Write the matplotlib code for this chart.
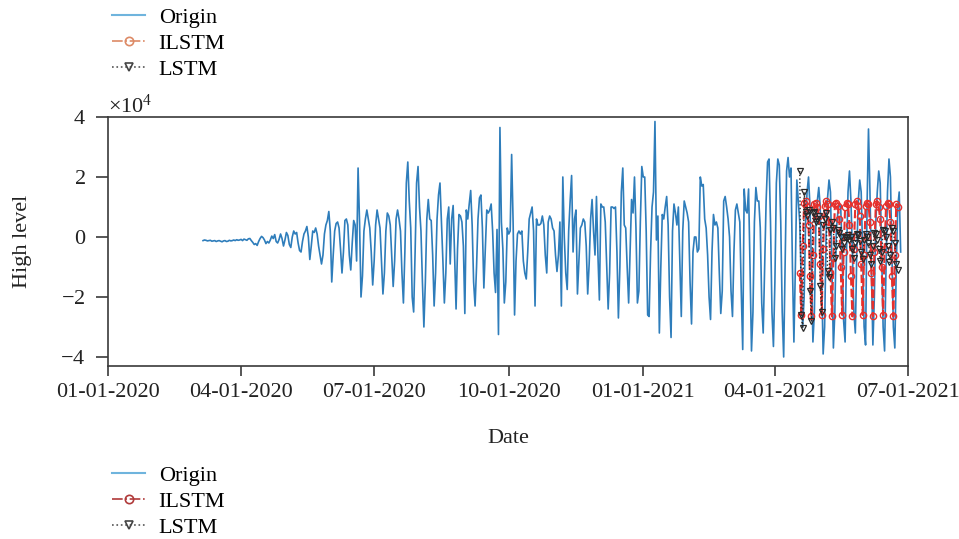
import matplotlib
matplotlib.use('Agg')
import matplotlib.pyplot as plt
import matplotlib.dates as mdates
import numpy as np
import pandas as pd
from matplotlib.lines import Line2D

plt.rcParams['font.family'] = ['Liberation Serif', 'DejaVu Serif']
plt.rcParams['mathtext.fontset'] = 'custom'
plt.rcParams['mathtext.rm'] = 'Liberation Serif'
plt.rcParams['axes.unicode_minus'] = True

# ---------------- data (units of 1e4) ----------------
origin_start = '2020-03-06'
origin = [
    -0.12, -0.10, -0.11, -0.13, -0.12, -0.11, -0.14, -0.13, -0.12, -0.15,
    -0.13, -0.12, -0.14, -0.16, -0.13, -0.12, -0.15, -0.14, -0.11, -0.13,
    -0.12, -0.10, -0.12, -0.09, -0.11, -0.10, -0.08, -0.12, -0.07, -0.09,
    -0.11, -0.06, -0.05, -0.12, -0.18, -0.25, -0.22, -0.28, -0.15, -0.05,
    0.02, -0.02, -0.10, -0.22, -0.15, -0.20, -0.10, 0.03, -0.05, 0.08,
    -0.15, -0.20, -0.08, 0.10, -0.05, -0.30, -0.10, 0.15, 0.05, -0.25,
    -0.35, 0.00, 0.20, 0.10, 0.15, -0.20, -0.45, -0.50, -0.15, 0.10,
    0.20, 0.35, 0.00, -0.75, -0.30, 0.20, 0.15, 0.30, 0.10, -0.30,
    -0.60, -0.90, -0.60, 0.10, 0.40, 0.55, 0.85, 0.20, -1.50, -0.60,
    0.20, 0.45, 0.50, 0.30, -0.40, -1.20, -0.50, 0.55, 0.60, 0.40,
    -0.60, -1.10, -0.20, 0.55, 0.40, -0.80, 2.30, 0.50, -2.00, -1.30,
    0.20, 0.60, 0.90, 0.60, 0.30, -0.50, -1.60, -0.80, 0.40, 0.90,
    0.60, 0.30, -0.80, -1.90, -1.20, 0.20, 0.80, 0.70, 0.40, -0.60,
    -1.65, -0.80, 0.60, 0.90, 0.60, 0.20, -1.20, -2.20, -0.50, 1.80,
    2.50, 1.20, 0.30, -2.00, -2.50, -0.50, 1.80, 2.35, 1.00, 0.20,
    -1.50, -3.00, -1.50, 0.60, 1.25, 0.60, 0.55, -0.60, -2.30, -1.20,
    0.60, 1.40, 1.80, 0.50, -0.80, -2.20, -1.20, 0.60, 1.00, -0.90,
    0.60, 1.05, -0.60, -2.40, -0.40, 0.75, 0.70, 0.50, -0.30, -2.55,
    0.90, 0.60, 1.10, 1.55, 0.40, -1.50, -2.30, -1.00, 0.60, 1.30,
    1.40, 0.30, -1.70, -0.40, 0.90, 0.80, 0.90, 1.10, 0.20, -1.20,
    -1.85, 0.25, -3.25, 3.65, 0.50, -0.40, -2.20, -1.50, 0.30, 0.10,
    0.20, 2.75, 0.50, -2.60, -0.80, 0.10, 0.20, 0.10, 0.20, -0.80,
    -1.20, -1.40, -0.50, 0.60, 0.80, 1.00, 0.20, -2.30, 0.60, 0.40,
    0.40, 0.45, 0.70, 0.40, -0.60, -1.20, 0.50, 0.70, 0.60, 0.30,
    0.20, -0.60, -1.15, -0.60, 0.50, -2.30, 2.00, 0.00, -1.20, -1.75,
    0.20, 1.20, 2.05, -0.50, 0.60, 0.90, -1.90, -0.80, 0.30, 0.40,
    0.60, 0.50, -0.30, -1.90, -0.90, 0.60, 1.25, 0.20, -0.60, 1.35,
    -0.60, -2.10, 1.10, 1.00, 1.00, 0.50, -1.00, -2.40, -1.20, 1.00,
    1.00, 0.95, 1.00, -0.50, -2.70, -1.00, 1.50, 2.30, 0.40, 0.30,
    -1.00, -2.20, -0.50, 1.25, 0.80, 2.00, 0.30, -2.20, -1.80, 0.50,
    2.35, 2.00, 2.00, 0.20, -2.60, -2.65, -0.50, 1.00, 1.50, 3.85,
    -0.10, 0.70, -3.20, -1.00, 0.75, 0.60, 1.00, 1.35, 0.40, -2.00,
    -3.35, 0.20, 1.10, 0.80, 0.40, 1.00, -0.80, -2.65, 0.20, 1.20,
    1.00, 0.80, 0.50, -1.50, -2.90, -0.50, 0.00, 0.00, -0.50, -0.40,
    2.00, 1.70, 1.75, 0.60, 0.30, -0.60, -2.00, -2.75, -0.50, 0.75,
    0.40, 0.50, 0.30, -1.20, -2.55, -1.80, 1.20, 1.35, 1.00, 0.60,
    0.00, -1.80, -2.65, -0.50, 0.90, 1.10, 0.80, 0.50, -1.80, -3.75,
    1.60, 0.90, 0.80, 1.60, -1.00, -3.80, -2.50, 0.50, 1.65, 1.20,
    1.20, 0.30, -2.20, -3.20, -1.00, 1.20, 2.50, 2.60, 0.50, -2.50,
    -3.65, -1.50, 1.80, 2.60, 2.40, 0.50, -2.50, -4.00, -1.00, 2.20,
    2.65, 2.00, 2.30, -1.00, -3.50, -1.00, 1.90, 1.20, 0.50, -1.50,
    -3.00, -2.00, 0.50, 1.50, 2.00, 1.00, -1.00, -3.50, -2.50, 0.30,
    1.20, 1.65, 1.00, -1.50, -3.90, -3.00, 0.00, 1.30, 1.90, 1.50,
    -1.00, -3.70, -2.50, 0.20, 0.80, 1.10, 1.00, -0.50, -2.80, -3.50,
    -0.50, 1.50, 2.20, 1.20, -0.50, -2.50, -3.20, -0.50, 1.20, 1.90,
    1.50, -0.50, -3.00, -3.60, 1.00, 3.60, 1.50, -1.00, -3.60, -2.00,
    0.50, 1.50, 2.20, 1.80, -0.50, -3.00, -3.80, -1.00, 1.50, 2.60,
    2.00, -0.50, -3.00, -3.70, -1.00, 1.00, 1.50, -0.50,
]

pred_start = '2021-04-18'
ilstm = [
    -1.20, -2.60, -0.30, 1.15, 1.20, 1.00, 0.40, -1.30, -2.65, -0.60,
    1.10, 1.15, 1.00, 0.70, -0.90, -2.60, -0.40, 1.05, 1.20, 1.10,
    0.50, -1.20, -2.65, -0.70, 1.10, 1.15, 1.05, 0.60, -1.00, -2.60,
    -0.50, 1.00, 1.15, 1.10, 0.40, -1.30, -2.65, -0.40, 1.10, 1.20,
    1.05, 0.70, -0.90, -2.60, -0.60, 1.05, 1.15, 1.10, 0.50, -1.20,
    -2.65, -0.50, 1.10, 1.20, 1.00, 0.60, -1.00, -2.60, -0.40, 1.05,
    1.15, 1.10, 0.50, -1.30, -2.65, -0.60, 1.10, 1.00,
]
lstm = [
    2.20, -2.60, -3.05, 1.50, 0.85, 0.70, 0.90, -1.80, -2.80, 0.80,
    0.85, 0.50, 0.60, 0.70, -1.65, -2.50, 0.40, 0.60, 0.80, -1.15,
    -1.35, 0.25, 0.50, 0.30, -0.70, -0.30, 0.25, 0.15, 0.00, -0.40,
    -0.20, 0.00, -0.05, 0.05, -0.10, 0.00, -0.40, -0.70, -0.20, 0.10,
    0.05, -0.15, -0.50, -0.75, -0.10, 0.10, 0.00, -0.20, -0.60, -0.90,
    -0.30, 0.15, 0.10, -0.10, -0.40, -0.80, -0.50, 0.25, 0.20, 0.00,
    -0.30, -0.85, -0.60, 0.30, 0.20, -0.20, -0.90, -1.10,
]

x_range = ('2020-01-01', '2021-07-01')
y_ticks = [-4, -2, 0, 2, 4]
scale = 1e4

# ---------------- figure ----------------
fig = plt.figure(figsize=(9.59, 5.39), dpi=100)
ax = fig.add_axes([0.1126, 0.3210, 0.8342, 0.4619])

dates = pd.date_range(origin_start, periods=len(origin), freq='D')
pdates = pd.date_range(pred_start, periods=len(ilstm), freq='D')

blue = '#2e7dbb'
red = '#e6302d'
dark = '#2a2a2a'

ax.plot(dates, np.array(origin) * scale, color=blue, lw=1.2, zorder=2)
ax.plot(pdates, np.array(ilstm) * scale, color=red, lw=1.5, ls=(0, (4, 1.5)),
        marker='o', ms=4.5, mfc='none', mec=red, mew=1.0, zorder=3)
ax.plot(pdates, np.array(lstm) * scale, color=dark, lw=1.0, ls=':',
        marker='v', ms=4.5, mfc='none', mec=dark, mew=0.9, zorder=4)

ax.set_xlim(pd.Timestamp(x_range[0]), pd.Timestamp(x_range[1]))
ax.set_ylim(-43000, 40000)
ax.set_yticks([v * scale for v in y_ticks])
ax.ticklabel_format(axis='y', style='sci', scilimits=(0, 0), useMathText=True)
ax.xaxis.set_major_locator(mdates.MonthLocator(bymonth=[1, 4, 7, 10]))
ax.xaxis.set_major_formatter(mdates.DateFormatter('%m-%d-%Y'))

fs = 16
spine_c = '#3a3a3a'
for s in ax.spines.values():
    s.set_color(spine_c)
    s.set_linewidth(1.2)
ax.tick_params(axis='both', colors=spine_c, labelcolor='#222222', labelsize=fs,
               width=1.2, direction='out')
ax.tick_params(axis='y', length=9, pad=7)
ax.tick_params(axis='x', length=7, pad=5)
ax.yaxis.get_offset_text().set_fontsize(fs)
ax.yaxis.get_offset_text().set_color('#222222')

ax.set_xlabel('Date', fontsize=fs, color='#222222')
ax.set_ylabel('High level', fontsize=fs, color='#222222')
ax.xaxis.set_label_coords(0.5, -0.255)
ax.yaxis.set_label_coords(-0.095, 0.5)

# legends
top_handles = [
    Line2D([], [], color='#6fb4dd', lw=1.5),
    Line2D([], [], color='#dd8a66', lw=1.2, ls='-.', marker='o', ms=6,
           mfc='none', mec='#dd8a66', mew=1.2),
    Line2D([], [], color='#555555', lw=1.2, ls=':', marker='v', ms=6,
           mfc='none', mec='#444444', mew=1.2),
]
bot_handles = [
    Line2D([], [], color='#6fb4dd', lw=1.5),
    Line2D([], [], color='#b03a3a', lw=1.2, ls='-.', marker='o', ms=6,
           mfc='none', mec='#b03a3a', mew=1.2),
    Line2D([], [], color='#555555', lw=1.2, ls=':', marker='v', ms=6,
           mfc='none', mec='#444444', mew=1.2),
]
labels = ['Origin', 'ILSTM', 'LSTM']
kw = dict(loc='upper left', frameon=False, fontsize=fs, handlelength=1.5,
          handletextpad=0.6, labelspacing=0.26, borderpad=0, borderaxespad=0)
leg1 = fig.legend(top_handles, labels, bbox_to_anchor=(112 / 959, 1 - 7 / 539), **kw)
leg2 = fig.legend(bot_handles, labels, bbox_to_anchor=(112 / 959, 1 - 465 / 539), **kw)

fig.savefig('out.png', dpi=100)
